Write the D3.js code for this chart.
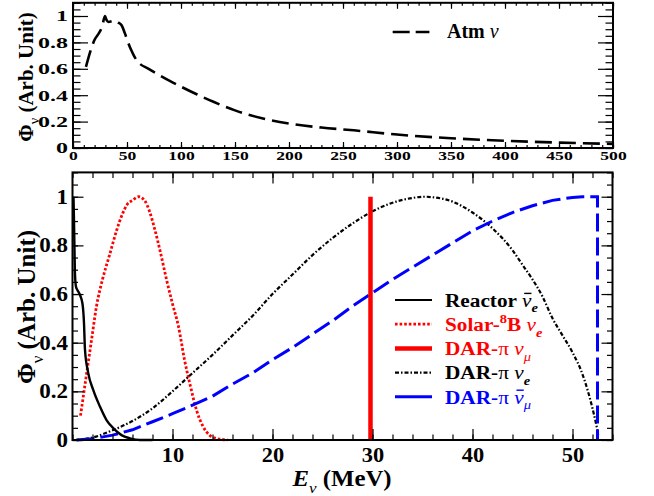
<!DOCTYPE html>
<html><head><meta charset="utf-8">
<script src="https://cdn.jsdelivr.net/npm/d3@7/dist/d3.min.js"></script>
<style>
body{margin:0;background:#fff}
svg{display:block}
</style>
</head><body>
<svg id="chart" width="654" height="496" font-family="'Liberation Serif', 'Times New Roman', serif" font-weight="bold"></svg>
<script>
// ---- Atmospheric neutrino flux (upper pad) ----
const atmE = [12, 16, 20, 24, 27, 29.6, 31, 33, 36, 39, 42, 45, 48, 51, 54, 57, 60.5, 70, 80, 90, 100, 115, 130, 150, 175, 200, 230, 260, 300, 350, 400, 450, 500];
const atmV = [0.615, 0.73, 0.82, 0.87, 0.92, 1.0, 0.97, 0.955, 0.96, 0.965, 0.95, 0.93, 0.87, 0.8, 0.74, 0.69, 0.65, 0.6, 0.552, 0.507, 0.465, 0.405, 0.35, 0.285, 0.225, 0.185, 0.155, 0.134, 0.102, 0.074, 0.055, 0.041, 0.031];

// ---- Low-energy sources (lower pad) ----
const reactorE = [0.1, 0.15, 0.2, 0.25, 0.35, 0.5, 0.75, 1.0, 1.15, 1.25, 1.58, 2.08, 2.75, 3.4, 4.1, 4.9, 5.75, 6.75, 8.0];
const reactorV = [1.0, 0.9, 0.78, 0.68, 0.63, 0.616, 0.596, 0.56, 0.48, 0.37, 0.274, 0.205, 0.137, 0.082, 0.048, 0.02, 0.007, 0.0, 0.0];

const solarE = [0.8, 1.4, 1.9, 2.4, 3.0, 3.7, 4.4, 5.0, 5.5, 6.0, 6.6, 7.2, 7.7, 8.2, 8.8, 9.4, 10.0, 10.6, 11.2, 11.8, 12.4, 13.0, 13.7, 14.3, 15.0, 15.5];
const solarV = [0.10, 0.27, 0.41, 0.55, 0.66, 0.76, 0.86, 0.93, 0.97, 0.985, 1.0, 0.985, 0.94, 0.87, 0.77, 0.66, 0.56, 0.466, 0.33, 0.22, 0.123, 0.06, 0.02, 0.007, 0.002, 0.0];

const darMuE = [29.8, 29.8];
const darMuV = [0.0, 1.0];

const darNueE = [0.3, 2, 4, 6, 8, 10, 12, 14, 16, 18, 20, 22, 24, 26, 28, 30, 32, 34, 35.2, 36, 38, 40, 42, 44, 45, 46, 47, 48, 49, 50, 51, 52, 52.6];
const darNueV = [0.0, 0.01, 0.04, 0.078, 0.13, 0.2, 0.275, 0.35, 0.43, 0.51, 0.6, 0.68, 0.76, 0.83, 0.89, 0.94, 0.975, 0.995, 1.0, 0.998, 0.98, 0.935, 0.87, 0.78, 0.72, 0.66, 0.59, 0.5, 0.43, 0.36, 0.27, 0.13, 0.02];

const darNumuBarE = [0.4, 2, 4, 6, 8, 10, 12, 14, 16, 18, 20, 22, 24, 26, 28, 30, 32, 34, 36, 38, 40, 42, 44, 46, 48, 50, 51, 52.2, 52.5, 52.5];
const darNumuBarV = [0.0, 0.005, 0.02, 0.042, 0.075, 0.108, 0.143, 0.18, 0.23, 0.275, 0.33, 0.38, 0.435, 0.49, 0.55, 0.605, 0.66, 0.71, 0.76, 0.81, 0.86, 0.9, 0.935, 0.963, 0.985, 0.997, 1.0, 1.0, 1.0, 0.0];

// ---- Tick values ----
const topXTicks = [0, 50, 100, 150, 200, 250, 300, 350, 400, 450, 500];
const topXMinor = d3.range(0, 501, 10);
const yTicks = [0, 0.2, 0.4, 0.6, 0.8, 1];
const yMinor = d3.range(0, 1.1001, 0.05);
const botXTicks = [10, 20, 30, 40, 50];
const botXMinor = d3.range(0, 54.01, 2);

const RED = "#ff0000", BLUE = "#0000ff";
const FONT = "'Liberation Serif', 'Times New Roman', serif";
const svg = d3.select("#chart");

const zip = (a, b) => a.map((v, i) => [v, b[i]]);

// rich text placed in its own group: parts may be italic / sub / sup / normal weight / overbarred
function rich(parent, x, y, parts, size, color, opt) {
  opt = opt || {};
  const g = parent.append("g")
    .attr("transform", `translate(${x},${y})` + (opt.rot ? ` rotate(${opt.rot})` : "") + ` scale(${opt.sx || 1},1)`);
  const t = g.append("text").attr("x", 0).attr("y", 0)
    .attr("font-family", FONT).attr("font-weight", "bold")
    .attr("font-size", size).attr("fill", color)
    .attr("text-anchor", opt.anchor || "start");
  let shift = 0;
  const bars = [];
  parts.forEach(p => {
    const ts = t.append("tspan").text(p.t);
    const target = p.sub ? 0.3 * size : p.sup ? -0.42 * size : 0;
    if (target !== shift) { ts.attr("dy", target - shift); shift = target; }
    if (p.sub || p.sup) ts.attr("font-size", size * 0.68);
    if (p.i) ts.attr("font-style", "italic");
    if (p.n) ts.attr("font-weight", "normal");
    if (p.bar) bars.push(ts);
  });
  bars.forEach(ts => {
    const b = ts.node().getBBox();
    g.append("line")
      .attr("x1", b.x + 2).attr("x2", b.x + b.width)
      .attr("y1", -0.7 * size).attr("y2", -0.7 * size)
      .attr("stroke", color).attr("stroke-width", 1.4);
  });
  return g;
}

function drawFrame(g, x, y, o) {
  const [x0, x1] = x.range(), [y1, y0] = y.range();
  const styleTicks = sel => {
    sel.attr("font-family", FONT).attr("font-weight", "bold");
    sel.select(".domain").remove();
    sel.selectAll("line").attr("stroke", "#000").attr("stroke-width", 1.2);
  };
  // bottom labelled axis
  const bx = g.append("g").attr("transform", `translate(0,${y1})`)
    .call(d3.axisBottom(x).tickValues(o.xTicks).tickSizeInner(-o.xLen).tickSizeOuter(0).tickPadding(o.xPad).tickFormat(d3.format("d")));
  styleTicks(bx);
  bx.selectAll("text").attr("font-size", o.xFont).attr("fill", "#000")
    .attr("transform", `scale(${o.xSx},1)`);
  g.append("g").attr("transform", `translate(0,${y1})`)
    .call(d3.axisBottom(x).tickValues(o.xMinor).tickSizeInner(-o.xLen / 2).tickSizeOuter(0).tickFormat(() => "")).call(styleTicks);
  g.append("g").attr("transform", `translate(0,${y0})`)
    .call(d3.axisTop(x).tickValues(o.xTicks).tickSizeInner(-o.xLen).tickSizeOuter(0).tickFormat(() => "")).call(styleTicks);
  g.append("g").attr("transform", `translate(0,${y0})`)
    .call(d3.axisTop(x).tickValues(o.xMinor).tickSizeInner(-o.xLen / 2).tickSizeOuter(0).tickFormat(() => "")).call(styleTicks);
  // left labelled axis
  const ly = g.append("g").attr("transform", `translate(${x0},0)`)
    .call(d3.axisLeft(y).tickValues(yTicks).tickSizeInner(-o.yLen).tickSizeOuter(0).tickPadding(o.yPad).tickFormat(d => d3.format("~g")(d)));
  styleTicks(ly);
  ly.selectAll("text").attr("font-size", o.yFont).attr("fill", "#000")
    .attr("x", -o.yPad / o.ySx).attr("transform", `scale(${o.ySx},1)`);
  g.append("g").attr("transform", `translate(${x0},0)`)
    .call(d3.axisLeft(y).tickValues(yMinor).tickSizeInner(-o.yLen / 2).tickSizeOuter(0).tickFormat(() => "")).call(styleTicks);
  g.append("g").attr("transform", `translate(${x1},0)`)
    .call(d3.axisRight(y).tickValues(yTicks).tickSizeInner(-o.yLen).tickSizeOuter(0).tickFormat(() => "")).call(styleTicks);
  g.append("g").attr("transform", `translate(${x1},0)`)
    .call(d3.axisRight(y).tickValues(yMinor).tickSizeInner(-o.yLen / 2).tickSizeOuter(0).tickFormat(() => "")).call(styleTicks);
  g.append("rect").attr("x", x0).attr("y", y0).attr("width", x1 - x0).attr("height", y1 - y0)
    .attr("fill", "none").attr("stroke", "#000").attr("stroke-width", 2);
}

// ================= upper pad =================
const xTop = d3.scaleLinear().domain([0, 500]).range([73, 613]);
const yTop = d3.scaleLinear().domain([0, 1.1]).range([148, 2.8]);
const gTop = svg.append("g");

gTop.append("path").datum(zip(atmE, atmV))
  .attr("d", d3.line().x(d => xTop(d[0])).y(d => yTop(d[1])).curve(d3.curveMonotoneX))
  .attr("fill", "none").attr("stroke", "#000").attr("stroke-width", 2.6).attr("stroke-dasharray", "17,7");

drawFrame(gTop, xTop, yTop, {
  xTicks: topXTicks, xMinor: topXMinor, xLen: 6, xPad: 3, xFont: 13, xSx: 1.35,
  yLen: 15, yPad: 5, yFont: 15, ySx: 1.6
});

rich(svg, 33, 77, [{ t: "Φ" }, { t: "ν", sub: true, n: true }, { t: " (Arb. Unit)" }], 21, "#000", { anchor: "middle", rot: -90 });

// legend of upper pad
gTop.append("line").attr("x1", xTop(296)).attr("x2", xTop(330)).attr("y1", 32).attr("y2", 32)
  .attr("stroke", "#000").attr("stroke-width", 2.6).attr("stroke-dasharray", "17,6");
rich(svg, 447, 38, [{ t: "Atm " }, { t: "ν", i: true, n: true }], 20, "#000");

// ================= lower pad =================
const xBot = d3.scaleLinear().domain([0, 54]).range([72.5, 612.5]);
const yBot = d3.scaleLinear().domain([0, 1.1]).range([440, 172.4]);
const gBot = svg.append("g");
const lineBot = d3.line().x(d => xBot(d[0])).y(d => yBot(d[1]));

gBot.append("path").datum(zip(solarE, solarV))
  .attr("d", lineBot.curve(d3.curveMonotoneX))
  .attr("fill", "none").attr("stroke", RED).attr("stroke-width", 2.8).attr("stroke-dasharray", "2.6,2");

gBot.append("path").datum(zip(darNueE, darNueV))
  .attr("d", lineBot.curve(d3.curveMonotoneX))
  .attr("fill", "none").attr("stroke", "#000").attr("stroke-width", 2.2).attr("stroke-dasharray", "4,2,1.5,2");

gBot.append("path").datum(zip(darNumuBarE, darNumuBarV))
  .attr("d", lineBot.curve(d3.curveLinear))
  .attr("fill", "none").attr("stroke", BLUE).attr("stroke-width", 3).attr("stroke-dasharray", "18,6");

gBot.append("path").datum(zip(reactorE, reactorV))
  .attr("d", lineBot.curve(d3.curveMonotoneX))
  .attr("fill", "none").attr("stroke", "#000").attr("stroke-width", 2.4);

gBot.append("path").datum(zip(darMuE, darMuV))
  .attr("d", lineBot.curve(d3.curveLinear))
  .attr("fill", "none").attr("stroke", RED).attr("stroke-width", 4.5);

drawFrame(gBot, xBot, yBot, {
  xTicks: botXTicks, xMinor: botXMinor, xLen: 11, xPad: 8, xFont: 20, xSx: 1.12,
  yLen: 11, yPad: 4.5, yFont: 20, ySx: 1.15
});

rich(svg, 35, 307, [{ t: "Φ" }, { t: "ν", sub: true, n: true }, { t: " (Arb. Unit)" }], 25, "#000", { anchor: "middle", rot: -90 });
rich(svg, 342, 486, [{ t: "E", i: true }, { t: "ν", sub: true, i: true, n: true }, { t: " (MeV)" }], 23, "#000", { anchor: "middle", sx: 1.08 });

// legend of lower pad
const legRows = [
  { stroke: "#000", w: 2.2, dash: null, color: "#000", parts: [{ t: "Reactor " }, { t: "ν", i: true, n: true, bar: true }, { t: "e", sub: true, i: true }] },
  { stroke: RED, w: 2.8, dash: "2.6,2", color: RED, parts: [{ t: "Solar-" }, { t: "8", sup: true }, { t: "B " }, { t: "ν", i: true, n: true }, { t: "e", sub: true, i: true }] },
  { stroke: RED, w: 4.5, dash: null, color: RED, parts: [{ t: "DAR-" }, { t: "π", n: true }, { t: " " }, { t: "ν", i: true, n: true }, { t: "μ", sub: true, i: true, n: true }] },
  { stroke: "#000", w: 2.2, dash: "4,2,1.5,2", color: "#000", parts: [{ t: "DAR-" }, { t: "π", n: true }, { t: " " }, { t: "ν", i: true, n: true }, { t: "e", sub: true, i: true }] },
  { stroke: BLUE, w: 3, dash: null, color: BLUE, parts: [{ t: "DAR-" }, { t: "π", n: true }, { t: " " }, { t: "ν", i: true, n: true, bar: true }, { t: "μ", sub: true, i: true, n: true }] }
];
legRows.forEach((r, i) => {
  const ly = 300 + i * 24.2;
  const l = svg.append("line").attr("x1", 395).attr("x2", 432).attr("y1", ly).attr("y2", ly)
    .attr("stroke", r.stroke).attr("stroke-width", r.w);
  if (r.dash) l.attr("stroke-dasharray", r.dash);
  rich(svg, 445, ly + 6.7, r.parts, 19, r.color, { sx: 1.12 });
});
</script>
</body></html>
